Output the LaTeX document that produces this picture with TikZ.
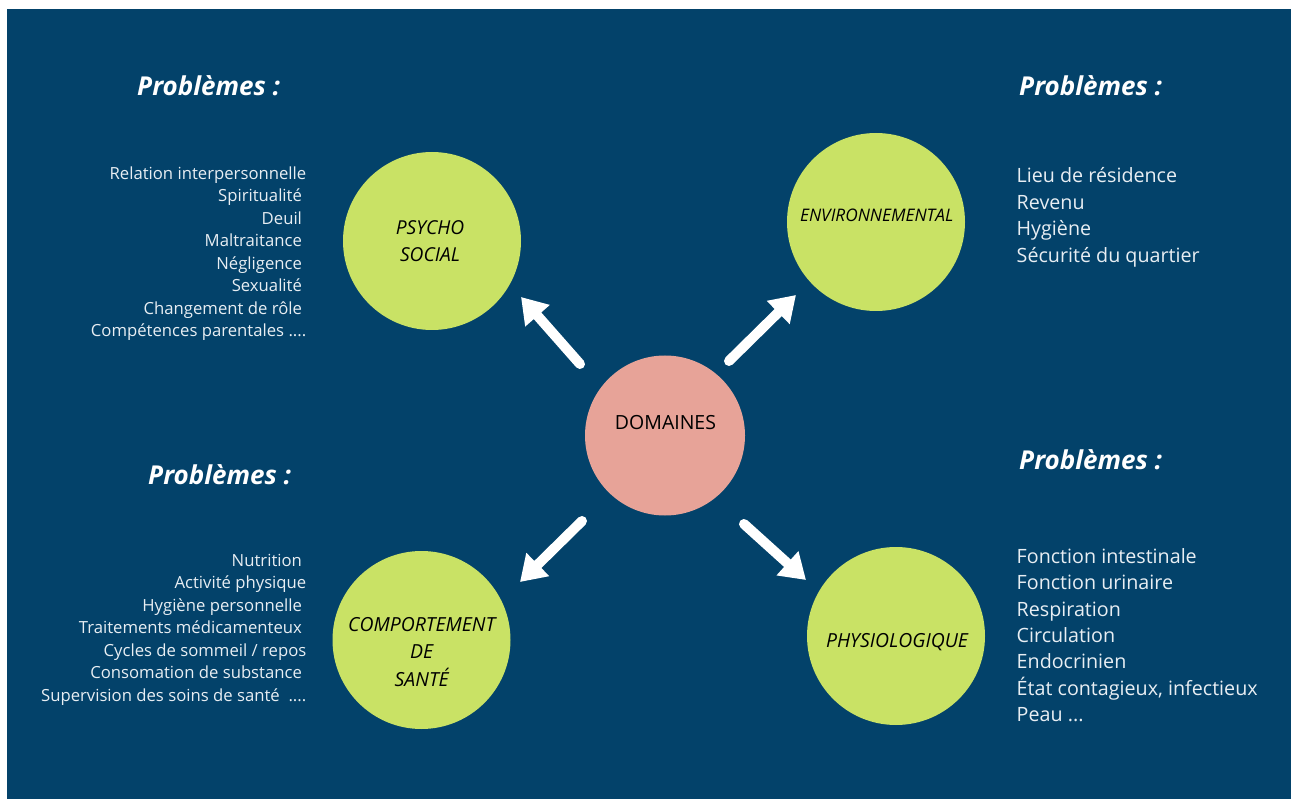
\documentclass[tikz,border=0pt]{standalone}
\usepackage{fontspec}
\setmainfont{Open Sans}
\usetikzlibrary{arrows.meta}

\definecolor{navy}{RGB}{3,66,106}
\definecolor{lime}{RGB}{201,226,101}
\definecolor{salmon}{RGB}{231,163,152}
\definecolor{softwhite}{RGB}{232,238,243}

% trailing word space kept at the end of a line (a box, so it is never removed)
\newcommand{\trailsp}{\hbox to 0.26em{\hss}}

\tikzset{
  domaincircle/.style={circle, fill=lime, draw=none, minimum size=178pt, inner sep=0pt},
  hubcircle/.style={circle, fill=salmon, draw=none, minimum size=160pt, inner sep=0pt},
  domainlabel/.style={inner sep=0pt, align=center, text=black, font=\itshape\fontsize{19.2}{27}\selectfont},
  heading/.style={inner sep=0pt, anchor=base west, text=white, font=\bfseries\itshape\fontsize{26}{30}\selectfont},
  leftlist/.style={inner sep=0pt, anchor=north east, align=right, text=softwhite, font=\fontsize{16.7}{22.5}\selectfont},
  rightlist/.style={inner sep=0pt, anchor=north west, align=left, text=softwhite, font=\fontsize{19.7}{26.35}\selectfont},
  pointer/.style={draw=white, line width=10pt, line cap=round, -{Triangle[length=25pt,width=31pt]}}
}

\begin{document}
\begin{tikzpicture}[x=1pt, y=-1pt]
  \useasboundingbox (0,0) rectangle (1291,799);
  \fill[navy] (7,9) rectangle (1291,799);

  % circles
  \node[hubcircle] (hub) at (665,435.5) {};
  \node[domaincircle] (psycho) at (432,241) {};
  \node[domaincircle] (env) at (876,222) {};
  \node[domaincircle] (comport) at (421.5,640) {};
  \node[domaincircle] (physio) at (896,636) {};

  % circle captions
  \node[inner sep=0pt, anchor=base, text=black, font=\fontsize{19.5}{22}\selectfont] (hubtext) at (665.5,429.3) {DOMAINES};
  \node[domainlabel, anchor=north] (psychotext) at (430,220.8) {PSYCHO\\SOCIAL};
  \node[domainlabel, anchor=base, font=\itshape\fontsize{17.3}{20}\selectfont] (envtext) at (876.7,221.7) {ENVIRONNEMENTAL};
  \node[domainlabel, anchor=north, font=\itshape\fontsize{19.4}{27.2}\selectfont] (comporttext) at (421.7,617.5) {COMPORTEMENT\\DE\\SANTÉ};
  \node[domainlabel, anchor=base, font=\itshape\fontsize{19.4}{22}\selectfont] (physiotext) at (897,647.5) {PHYSIOLOGIQUE};

  % arrows from the hub towards each domain
  \coordinate (a1s) at (580,364);  \coordinate (a1e) at (521,297);
  \coordinate (a2s) at (729,361);  \coordinate (a2e) at (796,295);
  \coordinate (a3s) at (582,521);  \coordinate (a3e) at (520,582);
  \coordinate (a4s) at (744,524);  \coordinate (a4e) at (806,580);
  \draw[pointer] (a1s) -- (a1e);
  \draw[pointer] (a2s) -- (a2e);
  \draw[pointer] (a3s) -- (a3e);
  \draw[pointer] (a4s) -- (a4e);

  % headings
  \node[heading] (h1) at (137,96) {Problèmes :};
  \node[heading] (h2) at (1019,96) {Problèmes :};
  \node[heading] (h3) at (148,485) {Problèmes :};
  \node[heading] (h4) at (1019,470) {Problèmes :};

  % problem lists
  \node[leftlist] (psycholist) at (306.5,166.6) {Relation interpersonnelle\\
    Spiritualité\trailsp\\
    Deuil\trailsp\\
    Maltraitance\trailsp\\
    Négligence\trailsp\\
    Sexualité\trailsp\\
    Changement de rôle\trailsp\\
    Compétences parentales ....};
  \node[rightlist] (envlist) at (1016.5,167.7) {Lieu de résidence\\
    Revenu\\
    Hygiène\\
    Sécurité du quartier};
  \node[leftlist] (comportlist) at (306.5,554) {Nutrition\trailsp\\
    Activité physique\\
    Hygiène personnelle\trailsp\\
    Traitements médicamenteux\trailsp\\
    Cycles de sommeil / repos\\
    Consomation de substance\trailsp\\
    Supervision des soins de santé\trailsp\trailsp....};
  \node[rightlist] (physiolist) at (1016.5,548.3) {Fonction intestinale\\
    Fonction urinaire\\
    Respiration\\
    Circulation\\
    Endocrinien\\
    État contagieux, infectieux\\
    Peau ...};
\end{tikzpicture}
\end{document}
